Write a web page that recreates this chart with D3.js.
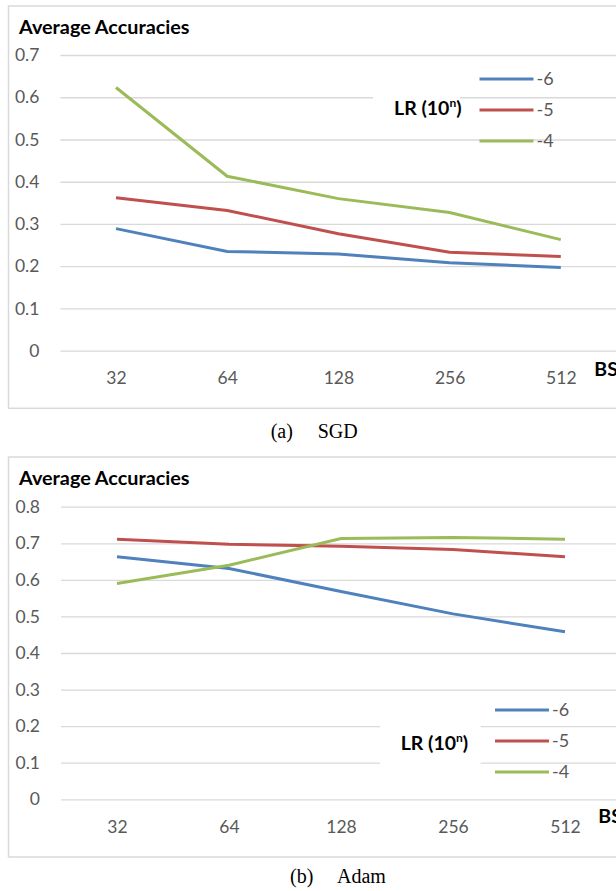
<!DOCTYPE html>
<html>
<head>
<meta charset="utf-8">
<script src="https://cdn.jsdelivr.net/npm/d3@7"></script>
<style>
  body { margin: 0; background: #fff; }
  svg { display: block; }
</style>
</head>
<body>
<main></main>
<script>
// data
const batchSizes = ['32', '64', '128', '256', '512'];
const lrExponents = ['-6', '-5', '-4'];

const sgdLr6 = [0.289, 0.235, 0.229, 0.208, 0.197];
const sgdLr5 = [0.362, 0.332, 0.277, 0.233, 0.223];
const sgdLr4 = [0.623, 0.413, 0.360, 0.327, 0.263];

const adamLr6 = [0.663, 0.631, 0.568, 0.507, 0.458];
const adamLr5 = [0.711, 0.697, 0.692, 0.683, 0.663];
const adamLr4 = [0.590, 0.640, 0.713, 0.716, 0.711];

const sgdTicks = [0, 0.1, 0.2, 0.3, 0.4, 0.5, 0.6, 0.7];
const adamTicks = [0, 0.1, 0.2, 0.3, 0.4, 0.5, 0.6, 0.7, 0.8];

const colors = ['#4F81BD', '#C0504D', '#9BBB59'];
const gridColor = '#D9D9D9';
const labelColor = '#595959';
const uiFont = 'Lato, "Open Sans", sans-serif';
const width = 616;
const height = 891;

const svg = d3.select('main')
  .append('svg')
  .attr('width', width)
  .attr('height', height);

function drawChart(opt) {
  const g = svg.append('g');

  // outer frame, runs off the right edge like the original
  g.append('rect')
    .attr('x', 8.5)
    .attr('y', opt.top)
    .attr('width', 640)
    .attr('height', opt.bottom - opt.top)
    .attr('fill', '#fff')
    .attr('stroke', gridColor)
    .attr('stroke-width', 1.5);

  const x = d3.scalePoint()
    .domain(batchSizes)
    .range([opt.xLeft, opt.xRight])
    .padding(0.5);

  const y = d3.scaleLinear()
    .domain([0, d3.max(opt.ticks)])
    .range([opt.yZero, opt.yTop]);

  // y axis: gridlines + labels
  const yAxis = d3.axisLeft(y)
    .tickValues(opt.ticks)
    .tickFormat(d => d === 0 ? '0' : d3.format('.1f')(d))
    .tickSize(-(width - opt.xLeft))
    .tickPadding(21);

  const yg = g.append('g')
    .attr('transform', `translate(${opt.xLeft}, 0)`)
    .call(yAxis);
  yg.select('.domain').remove();
  yg.selectAll('line')
    .attr('stroke', gridColor)
    .attr('stroke-width', 1.3);
  yg.selectAll('text')
    .attr('fill', labelColor)
    .attr('font-family', uiFont)
    .attr('font-size', 17.5);

  // x axis labels
  const xAxis = d3.axisBottom(x)
    .tickSize(0)
    .tickPadding(21);

  const xg = g.append('g')
    .attr('transform', `translate(0, ${opt.yZero})`)
    .call(xAxis);
  xg.select('.domain').remove();
  xg.selectAll('text')
    .attr('fill', labelColor)
    .attr('font-family', uiFont)
    .attr('font-size', 17.5);

  g.append('text')
    .text('Average Accuracies')
    .attr('x', 19)
    .attr('y', opt.top + 28)
    .attr('font-family', uiFont)
    .attr('font-weight', 'bold')
    .attr('font-size', 19.8)
    .attr('fill', '#000');

  g.append('text')
    .text('BS')
    .attr('x', opt.bsX)
    .attr('y', opt.bsY)
    .attr('font-family', uiFont)
    .attr('font-weight', 'bold')
    .attr('font-size', 19.5)
    .attr('fill', '#000');

  // lines
  const line = d3.line()
    .x((d, i) => x(batchSizes[i]))
    .y(d => y(d));

  opt.series.forEach((s, i) => {
    g.append('path')
      .datum(s)
      .attr('d', line)
      .attr('fill', 'none')
      .attr('stroke', colors[i])
      .attr('stroke-width', 3);
  });

  // legend title with white box that hides the gridlines behind it
  g.append('rect')
    .attr('x', opt.lrBox[0])
    .attr('y', opt.lrBox[1])
    .attr('width', opt.lrBox[2])
    .attr('height', opt.lrBox[3])
    .attr('fill', '#fff');

  const lr = g.append('text')
    .attr('x', opt.lrX)
    .attr('y', opt.lrY)
    .attr('font-family', uiFont)
    .attr('font-weight', 'bold')
    .attr('font-size', 19.5)
    .attr('fill', '#000');
  lr.append('tspan').text('LR (10');
  lr.append('tspan').text('n').attr('font-size', 12).attr('dy', -8);
  lr.append('tspan').text(')').attr('dy', 8);

  lrExponents.forEach((name, i) => {
    const ly = opt.legendY + i * 31;
    g.append('line')
      .attr('x1', opt.legendX)
      .attr('x2', opt.legendX + 54)
      .attr('y1', ly)
      .attr('y2', ly)
      .attr('stroke', colors[i])
      .attr('stroke-width', 3);
    g.append('text')
      .text(name)
      .attr('x', opt.legendX + 57)
      .attr('y', ly)
      .attr('dy', '0.35em')
      .attr('font-family', uiFont)
      .attr('font-size', 18)
      .attr('fill', labelColor);
  });

  // caption below the frame
  const cap = g.append('text')
    .attr('y', opt.capY)
    .attr('font-family', '"Liberation Serif", "Times New Roman", serif')
    .attr('font-size', 20)
    .attr('fill', '#000');
  cap.append('tspan').attr('x', opt.capX).text(opt.capTag);
  cap.append('tspan').attr('x', opt.capX + 47).text(opt.capName);
}

drawChart({
  top: 6,
  bottom: 408.3,
  xLeft: 60.4,
  xRight: 616.4,
  yZero: 350.7,
  yTop: 55,
  ticks: sgdTicks,
  series: [sgdLr6, sgdLr5, sgdLr4],
  bsX: 594.3,
  bsY: 376,
  lrBox: [373, 84, 87, 34],
  lrX: 394,
  lrY: 115,
  legendX: 479.5,
  legendY: 79,
  capX: 270.7,
  capY: 438.3,
  capTag: '(a)',
  capName: 'SGD'
});

drawChart({
  top: 457,
  bottom: 857,
  xLeft: 61,
  xRight: 621,
  yZero: 799.3,
  yTop: 506.7,
  ticks: adamTicks,
  series: [adamLr6, adamLr5, adamLr4],
  bsX: 598.3,
  bsY: 823,
  lrBox: [380, 718, 100.7, 52],
  lrX: 400.7,
  lrY: 750,
  legendX: 495,
  legendY: 710,
  capX: 290,
  capY: 883.3,
  capTag: '(b)',
  capName: 'Adam'
});
</script>
</body>
</html>
